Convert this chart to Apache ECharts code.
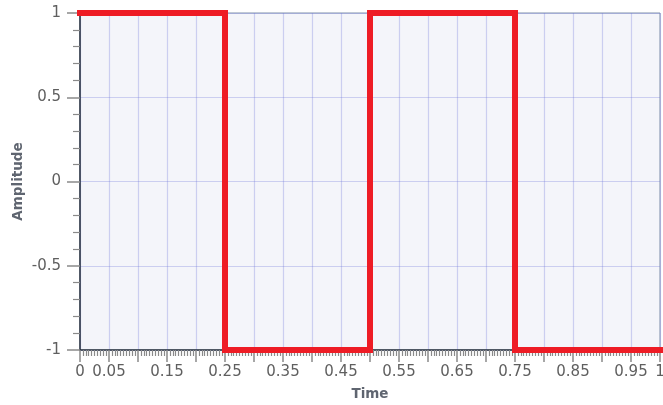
<!DOCTYPE html>
<html>
<head>
<meta charset="utf-8">
<script src="https://cdn.jsdelivr.net/npm/echarts@6/dist/echarts.min.js"></script>
<style>
  html, body { margin: 0; padding: 0; background: #ffffff; }
  #chart { width: 663px; height: 405px; }
</style>
</head>
<body>
<div id="chart"></div>
<script>
// Square wave, one period of 0.5 s, sampled at its edges
const timeValues = [0, 0.25, 0.25, 0.5, 0.5, 0.75, 0.75, 1];
const amplitudeValues = [1, 1, -1, -1, 1, 1, -1, -1];
// Tick values that carry a label on the time axis
const timeTickLabels = [0, 0.05, 0.15, 0.25, 0.35, 0.45, 0.55, 0.65, 0.75, 0.85, 0.95, 1];

const chart = echarts.init(document.getElementById('chart'), null, { renderer: 'canvas' });

const labelFont = { color: '#5f5f5f', fontSize: 15, fontFamily: 'DejaVu Sans' };
const nameFont = { color: '#5f6570', fontSize: 13.5, fontWeight: 'bold', fontFamily: 'DejaVu Sans' };

chart.setOption({
  animation: false,
  grid: {
    left: 80, right: 3, top: 13, bottom: 55,
    outerBoundsMode: 'none',
    containLabel: false,
    show: true,
    backgroundColor: '#f4f5fa',
    borderColor: '#8193ab',
    borderWidth: 1
  },
  xAxis: {
    type: 'value',
    min: 0, max: 1, interval: 0.05,
    name: 'Time',
    nameLocation: 'middle',
    nameGap: 37,
    nameMoveOverlap: false,
    nameTextStyle: nameFont,
    axisLine: { show: true, onZero: false, lineStyle: { color: '#2d3440', width: 1.5 } },
    axisTick: { show: true, length: 12, lineStyle: { color: '#8a8a8a', width: 1.5 } },
    minorTick: { show: true, splitNumber: 10, length: 6, lineStyle: { color: '#8a8a8a', width: 1.2 } },
    splitLine: { show: true, lineStyle: { color: 'rgba(110,115,220,0.3)', width: 1.2 } },
    axisLabel: Object.assign({
      margin: 15,
      showMinLabel: true,
      showMaxLabel: true,
      hideOverlap: false,
      formatter: function (v) {
        const hit = timeTickLabels.some(t => Math.abs(t - v) < 1e-6);
        return hit ? String(Math.round(v * 100) / 100) : '';
      }
    }, labelFont)
  },
  yAxis: {
    type: 'value',
    min: -1, max: 1, interval: 0.5,
    name: 'Amplitude',
    nameLocation: 'middle',
    nameGap: 55,
    nameMoveOverlap: false,
    nameTextStyle: nameFont,
    axisLine: { show: true, lineStyle: { color: '#2d3440', width: 1.5 } },
    axisTick: { show: true, length: 13, lineStyle: { color: '#8a8a8a', width: 1.5 } },
    minorTick: { show: true, splitNumber: 5, length: 7, lineStyle: { color: '#8a8a8a', width: 1.2 } },
    splitLine: { show: true, lineStyle: { color: 'rgba(110,115,220,0.3)', width: 1.2 } },
    axisLabel: Object.assign({ margin: 19 }, labelFont)
  },
  series: [{
    type: 'line',
    data: timeValues.map((t, i) => [t, amplitudeValues[i]]),
    showSymbol: false,
    clip: false,
    lineStyle: { color: '#ee1c25', width: 6, join: 'miter', cap: 'square' },
    itemStyle: { color: '#ee1c25' }
  }]
});
</script>
</body>
</html>
